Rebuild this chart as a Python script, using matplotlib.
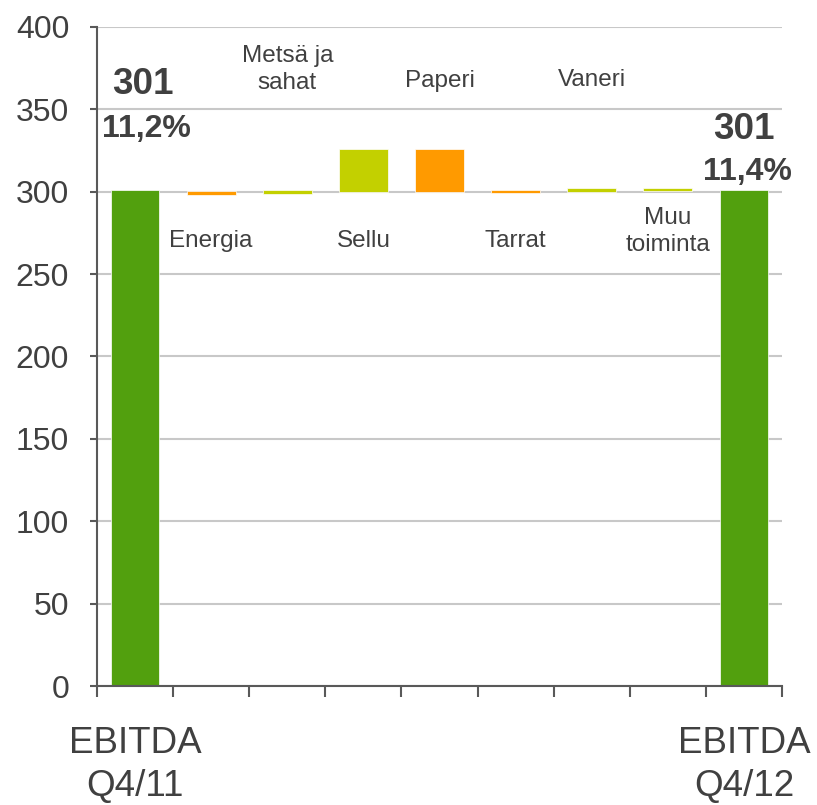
import matplotlib
matplotlib.use("Agg")
import matplotlib.pyplot as plt

plt.rcParams['font.family'] = ['Liberation Sans', 'DejaVu Sans']

# Data
categories = ["EBITDA\nQ4/11", "Energia", "Metsä ja\nsahat", "Sellu", "Paperi",
              "Tarrat", "Vaneri", "Muu\ntoiminta", "EBITDA\nQ4/12"]
bar_bottoms = [0, 298, 298.5, 300, 300, 299, 300, 300.5, 0]
bar_tops = [301, 300.5, 301, 326, 326, 301, 302, 302.5, 301]
bar_kinds = ["total", "neg", "pos", "pos", "neg", "neg", "pos", "pos", "total"]
label_y = [None, 270, 374, 270, 367, 270, 368, 276, None]
totals_text = ["301", "11,2%"], ["301", "11,4%"]
y_ticks = [0, 50, 100, 150, 200, 250, 300, 350, 400]

colors = {"total": "#52A00E", "pos": "#C3D000", "neg": "#FF9A00"}
txt = "#404040"

fig = plt.figure(figsize=(8.17, 8.05), dpi=100)
ax = fig.add_axes([97/817, 119/805, 685/817, 659/805])

xs = list(range(len(categories)))
heights = [t - b for t, b in zip(bar_tops, bar_bottoms)]
ax.bar(xs, heights, bottom=bar_bottoms, width=0.64,
       color=[colors[k] for k in bar_kinds], edgecolor="white", linewidth=0.5, zorder=3)

ax.set_xlim(-0.5, len(categories) - 0.5)
ax.set_ylim(0, 400)
ax.set_yticks(y_ticks)
ax.set_xticks([i - 0.5 for i in range(len(categories) + 1)])
ax.set_xticklabels([])
ax.grid(axis="y", color="#C8C8C8", linewidth=1.5, zorder=0)
ax.tick_params(axis="y", labelsize=23, colors="#595959", labelcolor=txt,
               length=5, width=1.5, pad=15)
ax.tick_params(axis="x", length=8, width=1.5, colors="#595959")
for s in ["top", "right"]:
    ax.spines[s].set_visible(False)
for s in ["left", "bottom"]:
    ax.spines[s].set_color("#595959")
    ax.spines[s].set_linewidth(1.5)
    ax.spines[s].set_zorder(4)

# category labels
for i, (c, ly) in enumerate(zip(categories, label_y)):
    if ly is None:
        continue
    ax.text(i, ly, c, ha="center", va="center", fontsize=17.5, color=txt,
            linespacing=1.3, zorder=5)

# EBITDA labels below axis
for i in [0, len(categories) - 1]:
    ax.text(i, -48, categories[i], ha="center", va="center", fontsize=26.5,
            color=txt, linespacing=1.3, clip_on=False)

# total annotations
ax.text(0.1, 365, totals_text[0][0], ha="center", va="center", fontsize=26.5,
        fontweight="bold", color=txt)
ax.text(0.15, 338, totals_text[0][1], ha="center", va="center", fontsize=23,
        fontweight="bold", color=txt)
ax.text(8.0, 338, totals_text[1][0], ha="center", va="center", fontsize=26.5,
        fontweight="bold", color=txt)
ax.text(8.05, 312, totals_text[1][1], ha="center", va="center", fontsize=23,
        fontweight="bold", color=txt, clip_on=False)

fig.savefig("out.png", dpi=100)
